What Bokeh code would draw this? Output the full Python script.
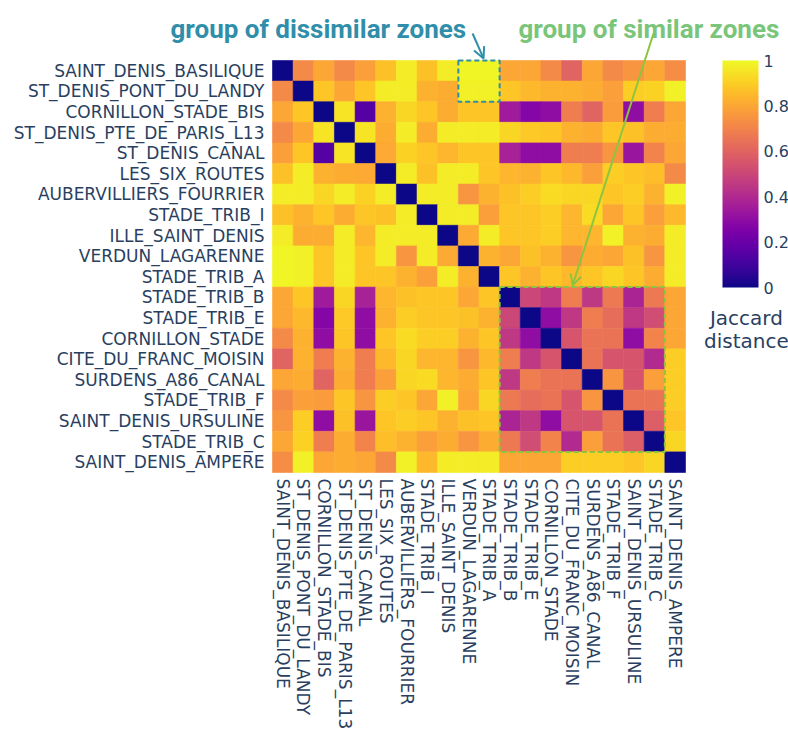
from bokeh.plotting import figure
from bokeh.models import (ColumnDataSource, Range1d, FixedTicker, LinearColorMapper, ColorBar,
                          Label, Arrow, OpenHead, BoxAnnotation, NumeralTickFormatter)
from bokeh.palettes import Plasma256
from bokeh.embed import file_html
from bokeh.resources import INLINE

zones = ["SAINT_DENIS_BASILIQUE", "ST_DENIS_PONT_DU_LANDY", "CORNILLON_STADE_BIS",
         "ST_DENIS_PTE_DE_PARIS_L13", "ST_DENIS_CANAL", "LES_SIX_ROUTES",
         "AUBERVILLIERS_FOURRIER", "STADE_TRIB_I", "ILLE_SAINT_DENIS", "VERDUN_LAGARENNE",
         "STADE_TRIB_A", "STADE_TRIB_B", "STADE_TRIB_E", "CORNILLON_STADE",
         "CITE_DU_FRANC_MOISIN", "SURDENS_A86_CANAL", "STADE_TRIB_F",
         "SAINT_DENIS_URSULINE", "STADE_TRIB_C", "SAINT_DENIS_AMPERE"]

row00 = [0, .72, .80, .72, .78, .87, .97, .87, .97, .99, .99, .80, .80, .72, .60, .80, .72, .75, .80, .73]
row01 = [.72, 0, .88, .80, .88, .97, .97, .83, .82, .98, .98, .88, .85, .83, .83, .82, .78, .90, .91, .98]
row02 = [.80, .88, 0, .95, .15, .83, .92, .88, .82, .88, .88, .35, .27, .30, .68, .60, .77, .30, .68, .80]
row03 = [.72, .80, .95, 0, .95, .82, .97, .82, .97, .97, .97, .92, .89, .88, .83, .82, .88, .87, .82, .82]
row04 = [.78, .88, .15, .95, 0, .81, .91, .88, .84, .88, .88, .37, .30, .30, .68, .68, .75, .33, .70, .80]
row05 = [.87, .97, .83, .82, .81, 0, .97, .87, .97, .97, .88, .84, .83, .88, .85, .78, .90, .88, .86, .72]
row06 = [.97, .97, .92, .97, .91, .97, 0, .97, .97, .75, .83, .87, .90, .93, .92, .92, .88, .90, .83, .98]
row07 = [.87, .83, .88, .82, .88, .87, .97, 0, .97, .97, .78, .88, .88, .90, .84, .93, .80, .88, .78, .85]
row08 = [.97, .82, .82, .97, .84, .97, .97, .97, 0, .81, .97, .88, .88, .90, .84, .84, .98, .83, .82, .97]
row09 = [.99, .98, .88, .97, .88, .97, .75, .97, .81, 0, .83, .80, .87, .83, .75, .82, .80, .87, .75, .97]
row10 = [.99, .98, .88, .97, .88, .88, .83, .78, .97, .83, 0, .88, .83, .88, .85, .88, .92, .88, .82, .97]
row11 = [.80, .88, .35, .92, .37, .84, .87, .88, .88, .80, .88, 0, .50, .45, .68, .45, .67, .38, .67, .80]
row12 = [.80, .85, .27, .89, .30, .83, .90, .88, .88, .87, .83, .50, 0, .30, .45, .68, .63, .45, .52, .80]
row13 = [.72, .83, .30, .88, .30, .88, .93, .90, .90, .83, .88, .45, .30, 0, .55, .65, .65, .30, .70, .80]
row14 = [.60, .83, .68, .83, .68, .85, .92, .84, .84, .75, .85, .68, .45, .55, 0, .65, .55, .55, .40, .90]
row15 = [.80, .82, .60, .82, .68, .78, .92, .93, .84, .82, .88, .45, .68, .65, .65, 0, .75, .55, .78, .90]
row16 = [.72, .78, .77, .88, .75, .90, .88, .80, .98, .80, .92, .67, .63, .65, .55, .75, 0, .65, .65, .90]
row17 = [.75, .90, .30, .87, .33, .88, .90, .88, .83, .87, .88, .38, .45, .30, .55, .55, .65, 0, .58, .88]
row18 = [.80, .91, .68, .82, .70, .86, .83, .78, .82, .75, .82, .67, .52, .70, .40, .78, .65, .58, 0, .92]
row19 = [.73, .98, .80, .82, .80, .72, .98, .85, .97, .97, .97, .80, .80, .80, .90, .90, .90, .88, .92, 0]

rows = [row00, row01, row02, row03, row04, row05, row06, row07, row08, row09,
        row10, row11, row12, row13, row14, row15, row16, row17, row18, row19]

colorbar_ticks = [0, 0.2, 0.4, 0.6, 0.8, 1]

xs, ys, vals = [], [], []
for i, r in enumerate(rows):
    for j, v in enumerate(r):
        xs.append(j + 0.5)
        ys.append(i + 0.5)
        vals.append(v)
src = ColumnDataSource(dict(x=xs, y=ys, v=vals))

mapper = LinearColorMapper(palette=Plasma256, low=0, high=1)

# The frame covers the whole figure, so that annotations around the heatmap are not
# clipped; the axes are pinned to the heatmap edges with fixed_location.
W, H = 788, 729
HM_LEFT, HM_TOP = 272, 60
CELL_W, CELL_H = 20.65, 20.6
x_start = -HM_LEFT / CELL_W
x_end = (W - HM_LEFT) / CELL_W
y_top = -HM_TOP / CELL_H
y_bottom = (H - HM_TOP) / CELL_H

p = figure(width=W, height=H, x_range=Range1d(x_start, x_end), y_range=Range1d(y_bottom, y_top),
           output_backend="svg", toolbar_location=None,
           min_border_left=0, min_border_right=0, min_border_top=0, min_border_bottom=0)
p.rect(x="x", y="y", width=1, height=1, source=src,
       fill_color={"field": "v", "transform": mapper},
       line_color={"field": "v", "transform": mapper}, line_width=0.6)

p.grid.visible = False
p.outline_line_color = None
p.background_fill_color = "white"
p.border_fill_color = "white"

tick_pos = [i + 0.5 for i in range(20)]
overrides = {i + 0.5: z for i, z in enumerate(zones)}
label_color = "#2a3f5f"
for ax in (p.xaxis[0], p.yaxis[0]):
    ax.ticker = FixedTicker(ticks=tick_pos)
    ax.major_label_overrides = overrides
    ax.axis_line_color = None
    ax.major_tick_line_color = None
    ax.minor_tick_line_color = None
    ax.major_tick_out = 0
    ax.major_tick_in = 0
    ax.major_label_text_font = "DejaVu Sans"
    ax.major_label_text_color = label_color
    ax.major_label_text_font_size = "17px"
p.yaxis.fixed_location = 0
p.xaxis.fixed_location = 20
p.yaxis.major_label_standoff = 8
p.xaxis.major_label_standoff = 6
p.xaxis.major_label_orientation = -1.5707963

cb = ColorBar(color_mapper=mapper, location=(722, H - 287), width=36, height=227,
              padding=0, margin=0, ticker=FixedTicker(ticks=colorbar_ticks),
              formatter=NumeralTickFormatter(format="0.[0]"),
              major_tick_line_color=None, bar_line_color=None, border_line_color=None,
              background_fill_alpha=0, label_standoff=5,
              major_label_text_font="DejaVu Sans", major_label_text_font_size="16px",
              major_label_text_color=label_color)
p.add_layout(cb, "center")

for txt, yy in (("Jaccard", 12.52), ("distance", 13.64)):
    p.add_layout(Label(x=22.95, y=yy, text=txt, text_align="center", text_baseline="middle",
                       text_font="DejaVu Sans", text_font_size="20px", text_color=label_color))

teal = "#2f8ea9"
green_txt = "#79c57a"
green = "#8cc43f"

p.add_layout(Label(x=-4.94, y=-1.55, text="group of dissimilar zones", text_align="left",
                   text_baseline="alphabetic", text_font="Roboto", text_font_style="bold",
                   text_font_size="26px", text_color=teal))
p.add_layout(Label(x=11.91, y=-1.55, text="group of similar zones", text_align="left",
                   text_baseline="alphabetic", text_font="Roboto", text_font_style="bold",
                   text_font_size="26px", text_color=green_txt))

p.add_layout(Arrow(x_start=9.69, y_start=-1.31, x_end=10.22, y_end=-0.1,
                   line_color=teal, line_width=2,
                   end=OpenHead(size=11, line_color=teal, line_width=2)))
p.add_layout(Arrow(x_start=18.45, y_start=-1.31, x_end=14.53, y_end=10.92,
                   line_color=green, line_width=2,
                   end=OpenHead(size=11, line_color=green, line_width=2)))

p.add_layout(BoxAnnotation(left=9, right=11, top=0, bottom=2, fill_alpha=0,
                           line_color=teal, line_alpha=1, line_width=2, line_dash="5 3"))
p.add_layout(BoxAnnotation(left=11, right=19, top=11, bottom=19, fill_alpha=0,
                           line_color=green, line_alpha=1, line_width=2, line_dash="5 3"))

open("out.html", "w").write(file_html(p, INLINE))
